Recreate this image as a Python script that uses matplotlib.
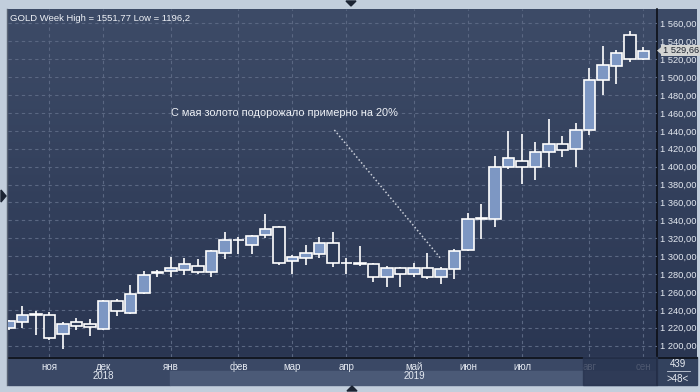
import matplotlib.pyplot as plt
import numpy as np
from matplotlib.patches import Rectangle, Polygon

plt.rcParams['font.family'] = ['Liberation Sans', 'DejaVu Sans']

# weekly candles, GOLD, Oct 2018 - Sep 2019
opens = [1219.4, 1226.8, 1235.5, 1233.9, 1212.7, 1226.1, 1224.2, 1218.3, 1249.9, 1236.9,
         1259.2, 1281.0, 1283.1, 1284.9, 1289.0, 1281.9, 1303.2, 1318.0, 1312.9, 1323.3,
         1332.2, 1295.0, 1298.3, 1302.8, 1314.3, 1292.5, 1292.0, 1290.9, 1277.1, 1286.4,
         1279.7, 1286.4, 1277.0, 1285.2, 1306.5, 1341.5, 1341.1, 1399.2, 1405.9, 1399.2,
         1415.9, 1424.9, 1419.3, 1440.6, 1496.5, 1512.5, 1546.8, 1520.3]
closes = [1227.2, 1233.9, 1234.5, 1208.9, 1223.9, 1222.4, 1221.2, 1249.9, 1239.1, 1257.7,
          1279.0, 1282.0, 1286.8, 1290.9, 1281.9, 1305.8, 1318.1, 1317.5, 1322.2, 1330.4,
          1292.7, 1299.1, 1303.2, 1314.3, 1292.7, 1292.0, 1291.5, 1276.4, 1286.4, 1279.7,
          1286.4, 1277.1, 1285.2, 1305.3, 1341.1, 1342.5, 1399.6, 1409.2, 1399.2, 1415.9,
          1424.9, 1418.2, 1440.5, 1496.5, 1513.3, 1526.7, 1520.0, 1529.66]
highs = [1228.5, 1244.3, 1238.4, 1237.3, 1226.5, 1230.9, 1229.8, 1251.0, 1252.2, 1267.8,
         1283.4, 1284.6, 1299.1, 1298.0, 1296.8, 1306.5, 1327.0, 1321.0, 1323.7, 1347.1,
         1333.7, 1301.3, 1312.1, 1321.0, 1327.0, 1297.6, 1311.4, 1292.7, 1289.0, 1287.6,
         1292.0, 1303.2, 1288.2, 1308.0, 1348.2, 1358.2, 1411.9, 1439.8, 1436.4, 1427.5,
         1453.2, 1434.2, 1448.7, 1509.9, 1534.8, 1530.4, 1551.77, 1533.7]
lows = [1218.0, 1220.1, 1211.9, 1206.4, 1196.2, 1217.5, 1210.8, 1217.5, 1233.5, 1235.4,
        1257.7, 1277.1, 1277.1, 1279.3, 1280.5, 1277.1, 1297.2, 1302.4, 1302.8, 1320.3,
        1290.5, 1280.1, 1290.1, 1298.0, 1288.4, 1280.1, 1289.4, 1271.6, 1266.0, 1266.0,
        1277.1, 1274.5, 1268.9, 1274.4, 1306.0, 1319.5, 1333.0, 1397.7, 1380.6, 1385.4,
        1399.9, 1411.1, 1399.9, 1435.7, 1479.7, 1492.0, 1516.6, 1519.0]

month_pos = [3, 7, 12, 17, 21, 25, 30, 34, 38, 43, 47]
month_labels = ['ноя', 'дек', 'янв', 'фев', 'мар', 'апр', 'май', 'июн', 'июл', 'авг', 'сен']
year_pos = [7, 30]
year_labels = ['2018', '2019']
yticks = np.arange(1200, 1561, 20)

title = 'GOLD Week High = 1551,77 Low = 1196,2'
note = 'С мая золото подорожало примерно на 20%'


def fmt(v):
    return f'{v:,.2f}'.replace(',', ' ').replace('.', ',')


W, H = 700, 392
fig = plt.figure(figsize=(7, 3.92), dpi=100, facecolor='#c2cedc')

# background / frame drawn in pixel coordinates
bg = fig.add_axes([0, 0, 1, 1], zorder=0)
bg.set_xlim(0, W)
bg.set_ylim(H, 0)
bg.axis('off')
grad = np.linspace(0, 1, 256).reshape(-1, 1)
top_c = np.array([0x3d, 0x4b, 0x67]) / 255
bot_c = np.array([0x2a, 0x36, 0x52]) / 255
img = top_c + (bot_c - top_c) * grad[:, :, None]
bg.imshow(img, extent=[8, 697, 357, 9], aspect='auto', zorder=0)
bg.add_patch(Rectangle((8, 357), 649, 14, color='#3a4865', zorder=1))
bg.add_patch(Rectangle((8, 371), 162, 14, color='#3a4865', zorder=1))
bg.add_patch(Rectangle((170, 371), 487, 14, color='#4b5a77', zorder=1))
bg.add_patch(Rectangle((657, 357), 40, 28, color='#33425e', zorder=1))
bg.plot([657, 657], [9, 385], color='#0c0f16', lw=1.2, zorder=2)
bg.plot([8, 697], [357.5, 357.5], color='#0c0f16', lw=1.2, zorder=2)
bg.plot([7, 7], [9, 385], color='#5a6475', lw=1, zorder=2)
bg.plot([667, 690], [371, 371], color='#c8d0dc', lw=0.6, zorder=2)
bg.text(678, 364, '439', color='#e8ecf2', fontsize=7, ha='center', va='center')
bg.text(678, 378.5, '>48<', color='#e8ecf2', fontsize=7, ha='center', va='center')
bg.add_patch(Polygon([[1, 190], [1, 202], [6, 196]], closed=True, color='#1c2433', zorder=2))
bg.add_patch(Polygon([[346, 1], [356, 1], [351, 6]], closed=True, color='#1c2433', zorder=2))
bg.add_patch(Polygon([[347, 391], [357, 391], [352, 386]], closed=True, color='#1c2433', zorder=2))

ax = fig.add_axes([8 / W, 35 / H, 649 / W, 348 / H], zorder=1)
ax.patch.set_alpha(0)
ax.set_xlim(-0.074, 48.0)
ax.set_ylim(1187.3, 1576.2)
for s in ax.spines.values():
    s.set_visible(False)

ax.grid(True, color='#5a6782', linestyle=(0, (3, 3)), linewidth=0.8)
ax.set_axisbelow(True)

x = np.arange(len(opens))
o = np.array(opens)
c = np.array(closes)
up = c >= o
ax.vlines(x, lows, highs, color='white', linewidth=1.2, zorder=3)
body_bot = np.minimum(o, c)
body_h = np.maximum(np.abs(c - o), 0.4)
ax.bar(x[up], body_h[up], bottom=body_bot[up], width=0.88,
       color='#7d97c3', edgecolor='white', linewidth=1.2, zorder=4)
ax.bar(x[~up], body_h[~up], bottom=body_bot[~up], width=0.88,
       color='#2b3956', edgecolor='white', linewidth=1.2, zorder=4)

ax.yaxis.tick_right()
ax.set_yticks(yticks)
ax.set_yticklabels([fmt(v) for v in yticks])
ax.set_xticks(month_pos)
ax.set_xticklabels(month_labels)
ax.tick_params(axis='y', length=0, pad=2.5, labelsize=6.7, labelcolor='#e4e9f1')
ax.tick_params(axis='x', length=0, pad=3.5, labelsize=7, labelcolor='#e4e9f1')

for p, lab in zip(year_pos, year_labels):
    ax.text(p, -0.054, lab, transform=ax.get_xaxis_transform(), ha='center', va='center',
            fontsize=7, color='#e4e9f1', clip_on=False)

# selection box over the last weeks in the bottom strip
ax.add_patch(Rectangle(((583 - 8) / 649, -28 / 348), 74 / 649, 28 / 348,
                       transform=ax.transAxes, color='#283450', alpha=0.8,
                       clip_on=False, zorder=5))

ax.text(0.003, 0.985, title, transform=ax.transAxes, ha='left', va='top',
        fontsize=6.8, color='#eef1f6')
ax.text(20.4, 1459.6, note, ha='center', va='center', fontsize=7.9, color='#eef1f6')
ax.plot([24.1, 32.0], [1441, 1297], linestyle=(0, (1, 1.5)), color='#c9ced8', linewidth=1.1)

# last price tag
last = closes[-1]
ax.annotate(fmt(last), xy=(1.0, last), xycoords=('axes fraction', 'data'),
            xytext=(4, 0), textcoords='offset points', ha='left', va='center',
            fontsize=6.7, color='#1e2430', annotation_clip=False, zorder=6,
            bbox=dict(boxstyle='square,pad=0.12', fc='#d3d4d2', ec='none'))
ax.annotate('', xy=(1.0, last), xycoords=('axes fraction', 'data'),
            xytext=(3.6, 0), textcoords='offset points', annotation_clip=False,
            arrowprops=dict(arrowstyle='-|>,head_length=0.35,head_width=0.3',
                            color='#d3d4d2', lw=0, shrinkA=0, shrinkB=0))

fig.savefig('out.png', dpi=100, facecolor=fig.get_facecolor())
